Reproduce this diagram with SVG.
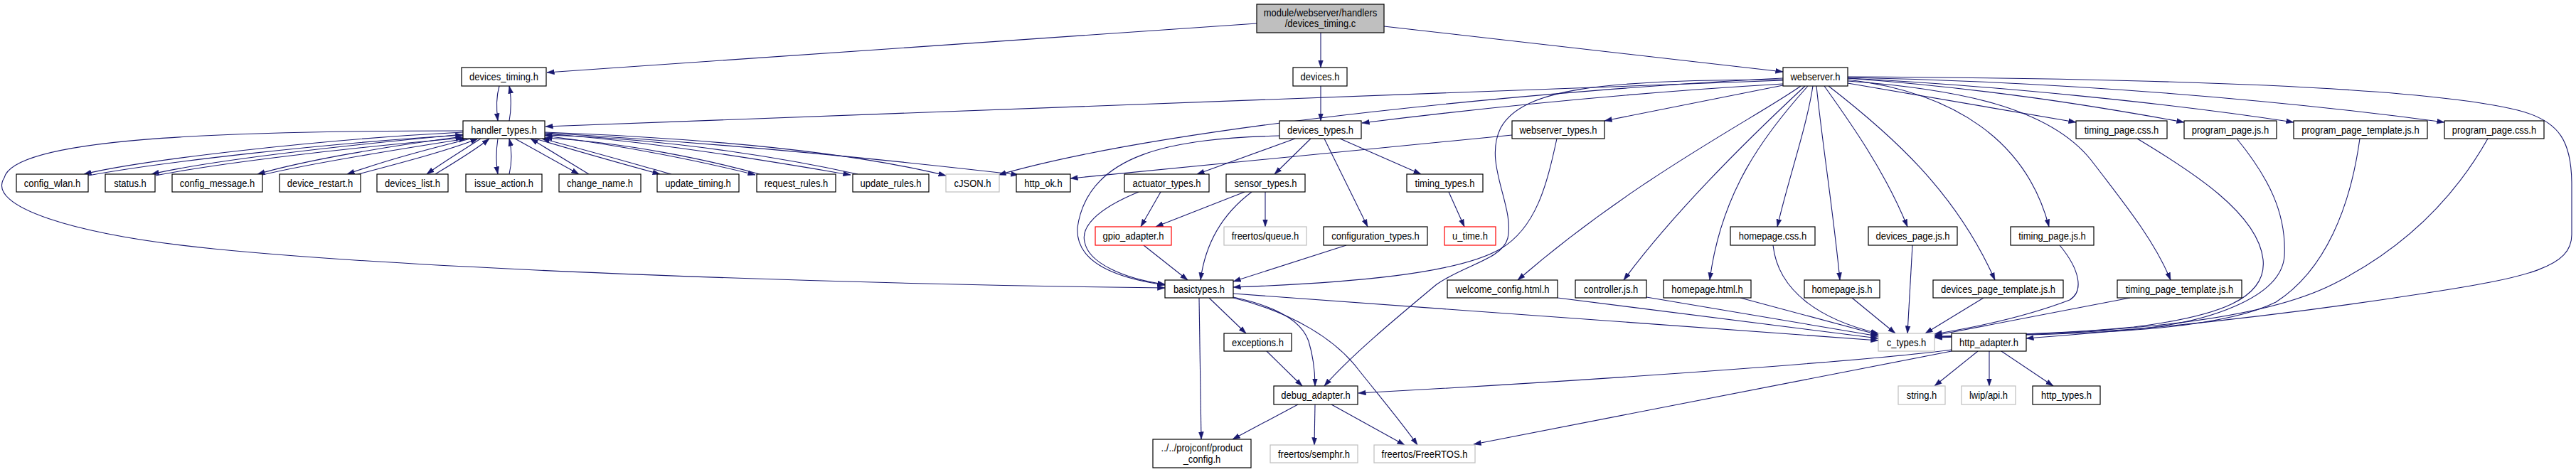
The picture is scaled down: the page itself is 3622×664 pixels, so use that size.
<svg xmlns="http://www.w3.org/2000/svg" width="3622" height="664" viewBox="0 0 3622 664">
<defs>
<marker id="ah" markerUnits="userSpaceOnUse" markerWidth="11" markerHeight="8" refX="10.5" refY="4" orient="auto" viewBox="0 0 11 8"><path d="M0,0.5 L10.5,4 L0,7.5 z" fill="#191970" stroke="#191970" stroke-width="0.5"/></marker>
</defs>
<style>
.n rect{fill:#fff;stroke:#000;stroke-width:1.2}
.g rect{stroke:#bfbfbf}
.r rect{stroke:#ff0000}
.root rect{fill:#bfbfbf}
text{font-family:"Liberation Sans",Arial,sans-serif;font-size:13px;text-anchor:middle;fill:#000;transform-box:fill-box;transform-origin:center;transform:scaleY(1.13)}
#edges path{fill:none;stroke:#191970;stroke-width:1.1;marker-end:url(#ah)}
</style>
<rect width="3622" height="664" fill="#fff"/>
<g id="edges">
<path d="M1767,33 L769,102"/>
<path d="M1857,46 L1857,95"/>
<path d="M1946,37 L2507,101"/>
<path d="M702,121 C698,135 698,155 700,170"/>
<path d="M716,170 C719,155 719,135 716,121"/>
<path d="M1857,121 L1857,170"/>
<path d="M2507,113 L767,178"/>
<path d="M2507,110 C2200,125 1650,175 1404,246"/>
<path d="M2507,112 C2250,112 2140,125 2110,180 C2085,230 2130,290 2120,335 C2112,365 2060,372 2020,400 C1960,450 1900,500 1862,543"/>
<path d="M2507,118 C2300,130 2100,150 1915,173"/>
<path d="M2507,120 L2256,170"/>
<path d="M2598,108 C3000,110 3400,120 3540,155 C3600,170 3616,200 3616,260 L3616,330 C3616,375 3560,390 3400,414 C3200,445 3000,465 2849,476"/>
<path d="M2532,121 C2470,165 2300,250 2134,394"/>
<path d="M2538,121 C2480,175 2360,290 2283,394"/>
<path d="M2542,121 C2480,190 2420,270 2404,394"/>
<path d="M2549,121 C2540,180 2515,250 2499,319"/>
<path d="M2554,121 C2562,200 2578,300 2587,394"/>
<path d="M2565,121 C2600,170 2650,240 2682,319"/>
<path d="M2571,121 C2660,190 2750,270 2805,394"/>
<path d="M2598,112 C2750,130 2850,200 2881,319"/>
<path d="M2598,114 C2750,125 2880,150 2940,225 C2990,290 3030,340 3052,394"/>
<path d="M2598,117 L2919,172"/>
<path d="M2598,110 C2800,125 2950,150 3071,172"/>
<path d="M2598,110 C2800,120 3050,145 3225,172"/>
<path d="M2598,109 C2900,115 3200,140 3437,172"/>
<path d="M651,184 C300,184 20,195 6,250 C-20,290 100,330 300,350 C600,380 1200,400 1638,405"/>
<path d="M651,186 C450,196 200,225 118,245"/>
<path d="M124,247 C220,229 460,201 651,190"/>
<path d="M651,189 C480,205 300,225 213,245"/>
<path d="M219,247 C310,229 490,208 651,194"/>
<path d="M651,192 C550,205 430,225 362,245"/>
<path d="M369,246 C440,229 560,210 656,195"/>
<path d="M662,195 C600,210 530,230 488,245"/>
<path d="M500,246 C560,230 630,212 672,195"/>
<path d="M676,195 C650,212 620,230 600,245"/>
<path d="M612,245 C640,228 670,210 688,195"/>
<path d="M700,195 C697,215 697,228 700,245"/>
<path d="M716,245 C720,228 720,212 716,195"/>
<path d="M724,195 L814,245"/>
<path d="M828,245 L746,195"/>
<path d="M752,195 C820,215 880,232 928,245"/>
<path d="M944,245 C890,230 820,210 762,195"/>
<path d="M766,191 C880,205 990,228 1062,246"/>
<path d="M1068,245 C1000,226 880,200 766,194"/>
<path d="M766,188 C930,200 1100,230 1196,246"/>
<path d="M1206,245 C1120,226 950,195 766,190"/>
<path d="M766,186 C1000,195 1200,215 1330,247"/>
<path d="M766,187 C1000,200 1250,225 1432,246"/>
<path d="M2126,190 C1900,212 1700,232 1505,251"/>
<path d="M2189,195 C2175,260 2160,320 2110,350 C2050,385 1900,398 1734,404"/>
<path d="M1821,195 L1683,245"/>
<path d="M1843,195 L1792,245"/>
<path d="M1884,195 L1998,245"/>
<path d="M1862,195 L1923,319"/>
<path d="M1799,191 C1650,195 1530,215 1515,320 C1512,365 1560,390 1638,401"/>
<path d="M1601,270 C1540,295 1520,320 1525,340 C1530,370 1580,392 1638,400"/>
<path d="M1760,270 C1720,300 1695,340 1688,394"/>
<path d="M1608,345 L1670,394"/>
<path d="M1893,345 L1734,396"/>
<path d="M1632,270 L1604,319"/>
<path d="M1750,270 L1625,319"/>
<path d="M1779,270 L1779,319"/>
<path d="M2037,270 L2059,319"/>
<path d="M1700,419 L1752,469"/>
<path d="M1686,419 L1689,618"/>
<path d="M1734,418 C1790,430 1830,450 1840,480 C1846,500 1849,520 1849,543"/>
<path d="M1734,419 C1820,440 1880,480 1910,520 C1950,570 1975,600 1993,626"/>
<path d="M1734,413 L2641,479"/>
<path d="M1781,494 L1831,543"/>
<path d="M1825,569 L1733,618"/>
<path d="M1849,569 L1848,626"/>
<path d="M1872,569 L1975,626"/>
<path d="M2744,492 C2650,505 2300,532 1910,553"/>
<path d="M2744,494 L2072,625"/>
<path d="M2781,494 L2720,543"/>
<path d="M2797,494 L2797,543"/>
<path d="M2814,494 L2887,543"/>
<path d="M2190,419 L2641,476"/>
<path d="M2315,418 L2641,473"/>
<path d="M2447,419 L2641,471"/>
<path d="M2493,345 C2500,410 2560,450 2641,469"/>
<path d="M2604,419 L2665,469"/>
<path d="M2689,345 L2682,469"/>
<path d="M2789,419 L2707,469"/>
<path d="M2896,345 C2925,380 2930,410 2910,422 C2850,445 2780,460 2720,470"/>
<path d="M2995,419 L2720,472"/>
<path d="M3005,195 C3080,240 3175,300 3182,365 C3188,420 3120,445 3000,460 C2900,470 2800,471 2720,473"/>
<path d="M3145,195 C3190,250 3215,300 3212,360 C3208,420 3100,455 3000,463 C2900,470 2800,472 2720,474"/>
<path d="M3318,195 C3305,290 3270,380 3200,425 C3120,465 2950,470 2720,474"/>
<path d="M3498,195 C3450,280 3380,350 3280,400 C3180,450 3000,468 2720,475"/>
</g>
<g id="root" class="n root"><rect x="1767" y="6" width="179" height="40"/><text x="1856.5" y="22">module/webserver/handlers</text><text x="1856.5" y="37">/devices_timing.c</text></g>
<g id="devices_timing_h" class="n"><rect x="649" y="95" width="119" height="26"/><text x="708.5" y="112.5">devices_timing.h</text></g>
<g id="devices_h" class="n"><rect x="1818" y="95" width="76" height="26"/><text x="1856" y="112.5">devices.h</text></g>
<g id="webserver_h" class="n"><rect x="2507" y="95" width="91" height="26"/><text x="2552.5" y="112.5">webserver.h</text></g>
<g id="handler_types_h" class="n"><rect x="651" y="170" width="115" height="25"/><text x="708.5" y="187">handler_types.h</text></g>
<g id="devices_types_h" class="n"><rect x="1799" y="170" width="115" height="25"/><text x="1856.5" y="187">devices_types.h</text></g>
<g id="webserver_types_h" class="n"><rect x="2126" y="170" width="130" height="25"/><text x="2191" y="187">webserver_types.h</text></g>
<g id="timing_page_css_h" class="n"><rect x="2919" y="170" width="128" height="25"/><text x="2983" y="187">timing_page.css.h</text></g>
<g id="program_page_js_h" class="n"><rect x="3071" y="170" width="130" height="25"/><text x="3136" y="187">program_page.js.h</text></g>
<g id="program_page_template_js_h" class="n"><rect x="3225" y="170" width="188" height="25"/><text x="3319" y="187">program_page_template.js.h</text></g>
<g id="program_page_css_h" class="n"><rect x="3437" y="170" width="140" height="25"/><text x="3507" y="187">program_page.css.h</text></g>
<g id="config_wlan_h" class="n"><rect x="23" y="245" width="101" height="25"/><text x="73.5" y="262">config_wlan.h</text></g>
<g id="status_h" class="n"><rect x="148" y="245" width="70" height="25"/><text x="183" y="262">status.h</text></g>
<g id="config_message_h" class="n"><rect x="242" y="245" width="127" height="25"/><text x="305.5" y="262">config_message.h</text></g>
<g id="device_restart_h" class="n"><rect x="393" y="245" width="114" height="25"/><text x="450" y="262">device_restart.h</text></g>
<g id="devices_list_h" class="n"><rect x="530" y="245" width="100" height="25"/><text x="580" y="262">devices_list.h</text></g>
<g id="issue_action_h" class="n"><rect x="655" y="245" width="107" height="25"/><text x="708.5" y="262">issue_action.h</text></g>
<g id="change_name_h" class="n"><rect x="786" y="245" width="115" height="25"/><text x="843.5" y="262">change_name.h</text></g>
<g id="update_timing_h" class="n"><rect x="924" y="245" width="115" height="25"/><text x="981.5" y="262">update_timing.h</text></g>
<g id="request_rules_h" class="n"><rect x="1064" y="245" width="111" height="25"/><text x="1119.5" y="262">request_rules.h</text></g>
<g id="update_rules_h" class="n"><rect x="1199" y="245" width="107" height="25"/><text x="1252.5" y="262">update_rules.h</text></g>
<g id="cJSON_h" class="n g"><rect x="1330" y="245" width="75" height="25"/><text x="1367.5" y="262">cJSON.h</text></g>
<g id="http_ok_h" class="n"><rect x="1429" y="245" width="76" height="25"/><text x="1467" y="262">http_ok.h</text></g>
<g id="actuator_types_h" class="n"><rect x="1581" y="245" width="119" height="25"/><text x="1640.5" y="262">actuator_types.h</text></g>
<g id="sensor_types_h" class="n"><rect x="1724" y="245" width="111" height="25"/><text x="1779.5" y="262">sensor_types.h</text></g>
<g id="timing_types_h" class="n"><rect x="1978" y="245" width="107" height="25"/><text x="2031.5" y="262">timing_types.h</text></g>
<g id="gpio_adapter_h" class="n r"><rect x="1540" y="319" width="107" height="26"/><text x="1593.5" y="336.5">gpio_adapter.h</text></g>
<g id="freertos_queue_h" class="n g"><rect x="1721" y="319" width="116" height="26"/><text x="1779" y="336.5">freertos/queue.h</text></g>
<g id="configuration_types_h" class="n"><rect x="1861" y="319" width="146" height="26"/><text x="1934" y="336.5">configuration_types.h</text></g>
<g id="u_time_h" class="n r"><rect x="2031" y="319" width="72" height="26"/><text x="2067" y="336.5">u_time.h</text></g>
<g id="homepage_css_h" class="n"><rect x="2433" y="319" width="119" height="26"/><text x="2492.5" y="336.5">homepage.css.h</text></g>
<g id="devices_page_js_h" class="n"><rect x="2627" y="319" width="125" height="26"/><text x="2689.5" y="336.5">devices_page.js.h</text></g>
<g id="timing_page_js_h" class="n"><rect x="2827" y="319" width="117" height="26"/><text x="2885.5" y="336.5">timing_page.js.h</text></g>
<g id="basictypes_h" class="n"><rect x="1638" y="394" width="96" height="25"/><text x="1686" y="411">basictypes.h</text></g>
<g id="welcome_config_html_h" class="n"><rect x="2035" y="394" width="155" height="25"/><text x="2112.5" y="411">welcome_config.html.h</text></g>
<g id="controller_js_h" class="n"><rect x="2215" y="394" width="100" height="25"/><text x="2265" y="411">controller.js.h</text></g>
<g id="homepage_html_h" class="n"><rect x="2339" y="394" width="123" height="25"/><text x="2400.5" y="411">homepage.html.h</text></g>
<g id="homepage_js_h" class="n"><rect x="2537" y="394" width="106" height="25"/><text x="2590" y="411">homepage.js.h</text></g>
<g id="devices_page_template_js_h" class="n"><rect x="2718" y="394" width="183" height="25"/><text x="2809.5" y="411">devices_page_template.js.h</text></g>
<g id="timing_page_template_js_h" class="n"><rect x="2977" y="394" width="175" height="25"/><text x="3064.5" y="411">timing_page_template.js.h</text></g>
<g id="exceptions_h" class="n"><rect x="1721" y="469" width="95" height="25"/><text x="1768.5" y="486">exceptions.h</text></g>
<g id="c_types_h" class="n g"><rect x="2641" y="469" width="79" height="25"/><text x="2680.5" y="486">c_types.h</text></g>
<g id="http_adapter_h" class="n"><rect x="2744" y="469" width="105" height="25"/><text x="2796.5" y="486">http_adapter.h</text></g>
<g id="debug_adapter_h" class="n"><rect x="1791" y="543" width="118" height="26"/><text x="1850" y="560.5">debug_adapter.h</text></g>
<g id="string_h" class="n g"><rect x="2669" y="543" width="66" height="26"/><text x="2702" y="560.5">string.h</text></g>
<g id="lwip_api_h" class="n g"><rect x="2758" y="543" width="76" height="26"/><text x="2796" y="560.5">lwip/api.h</text></g>
<g id="http_types_h" class="n"><rect x="2858" y="543" width="95" height="26"/><text x="2905.5" y="560.5">http_types.h</text></g>
<g id="product_config_h" class="n"><rect x="1621" y="618" width="138" height="40"/><text x="1690" y="634">../../projconf/product</text><text x="1690" y="650">_config.h</text></g>
<g id="freertos_semphr_h" class="n g"><rect x="1786" y="626" width="123" height="25"/><text x="1847.5" y="643">freertos/semphr.h</text></g>
<g id="freertos_FreeRTOS_h" class="n g"><rect x="1932" y="626" width="142" height="25"/><text x="2003" y="643">freertos/FreeRTOS.h</text></g>
</svg>
